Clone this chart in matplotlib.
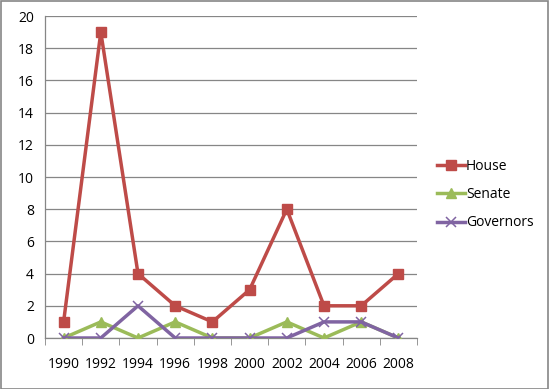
import numpy as np
import matplotlib.pyplot as plt
from matplotlib.patches import Rectangle

# data
years = ["1990", "1992", "1994", "1996", "1998", "2000", "2002", "2004", "2006", "2008"]
house = [1, 19, 4, 2, 1, 3, 8, 2, 2, 4]
senate = [0, 1, 0, 1, 0, 0, 1, 0, 1, 0]
governors = [0, 0, 2, 0, 0, 0, 0, 1, 1, 0]

plt.rcParams['font.family'] = ['Open Sans', 'DejaVu Sans']

fig = plt.figure(figsize=(5.49, 3.89), dpi=100)
ax = fig.add_axes([45/549, 1-338/389, (417-45)/549, (338-16)/389])

x = np.arange(len(years))

ax.plot(x, house, color='#BE4B48', lw=2.5, marker='s', ms=7, label='House', zorder=3)
ax.plot(x, senate, color='#9BBB59', lw=2.5, marker='^', ms=7, label='Senate', zorder=3)
ax.plot(x, governors, color='#8064A2', lw=2.5, marker='x', ms=7, mew=1.1,
        label='Governors', zorder=4)

ax.set_xlim(-0.5, len(years) - 0.5)
ax.set_ylim(0, 20)
ax.set_yticks(np.arange(0, 21, 2))
ax.set_xticks(x)
ax.set_xticklabels(years)
ax.set_xticks(np.arange(-0.5, len(years), 1), minor=True)

ax.tick_params(axis='x', which='major', length=0, labelsize=10, pad=14)
ax.tick_params(axis='x', which='minor', length=5, color='#868686', direction='out')
ax.tick_params(axis='y', which='major', length=0, labelsize=10, pad=8)

ax.grid(axis='y', color='#868686', lw=0.9)
ax.set_axisbelow(True)

for side in ['top', 'right']:
    ax.spines[side].set_visible(False)
for side in ['left', 'bottom']:
    ax.spines[side].set_color('#868686')
    ax.spines[side].set_linewidth(0.9)

ax.legend(loc='center left', bbox_to_anchor=(1.02, 0.445), frameon=False,
          fontsize=10, handlelength=2.0, handletextpad=0.1, labelspacing=0.95)

fig.patches.append(Rectangle((0.001, 0.001), 0.997, 0.996, transform=fig.transFigure,
                             fill=False, edgecolor='#868686', lw=1.2))

fig.savefig("out.png", dpi=100)
